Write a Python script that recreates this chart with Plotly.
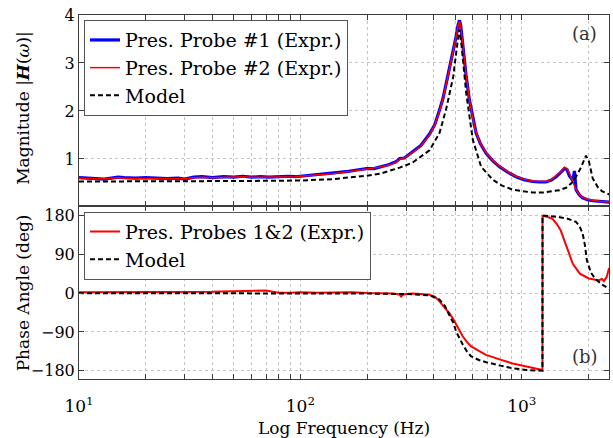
import plotly.graph_objects as go

# ---------------- data ----------------
f_exp = [10, 11, 12, 13, 14, 15, 16, 18, 20, 22, 25, 28, 30, 33, 36, 40, 45, 50, 55, 60,
         66, 72, 80, 88, 95, 100, 110, 120, 130, 140, 150, 165, 180, 199, 215, 228, 250,
         270, 281, 295, 320, 350, 383, 405, 425, 440, 456, 470, 490, 505, 515, 523, 530,
         541, 560, 580, 600, 622, 650, 690, 740, 793, 860, 942, 1020, 1120, 1200, 1288,
         1360, 1429, 1500, 1557, 1600, 1640, 1700, 1730, 1758, 1820, 1884, 1980, 2090,
         2250, 2400, 2480]
mag_probe1 = [0.61, 0.60, 0.59, 0.58, 0.60, 0.62, 0.61, 0.60, 0.61, 0.60, 0.59, 0.60, 0.58,
              0.62, 0.63, 0.61, 0.63, 0.62, 0.64, 0.62, 0.63, 0.62, 0.63, 0.64, 0.63, 0.64,
              0.66, 0.67, 0.68, 0.70, 0.72, 0.74, 0.77, 0.80, 0.80, 0.83, 0.88, 0.94, 1.01,
              1.02, 1.14, 1.28, 1.52, 1.72, 2.02, 2.25, 2.58, 2.85, 3.26, 3.55, 3.78, 3.89,
              3.78, 3.35, 2.75, 2.23, 1.85, 1.54, 1.32, 1.12, 0.96, 0.84, 0.73, 0.63, 0.57,
              0.53, 0.52, 0.52, 0.56, 0.63, 0.72, 0.80, 0.78, 0.65, 0.55, 0.75, 0.36, 0.25,
              0.19, 0.15, 0.13, 0.12, 0.10, 0.10]
mag_probe2 = [0.60, 0.59, 0.59, 0.59, 0.60, 0.61, 0.60, 0.60, 0.60, 0.60, 0.60, 0.60, 0.59,
              0.61, 0.62, 0.61, 0.62, 0.62, 0.63, 0.62, 0.62, 0.62, 0.63, 0.63, 0.63, 0.64,
              0.65, 0.66, 0.68, 0.69, 0.71, 0.73, 0.76, 0.79, 0.81, 0.83, 0.87, 0.93, 0.99,
              1.02, 1.13, 1.27, 1.50, 1.71, 2.00, 2.24, 2.56, 2.84, 3.24, 3.54, 3.76, 3.87,
              3.76, 3.35, 2.76, 2.24, 1.86, 1.55, 1.33, 1.13, 0.97, 0.85, 0.74, 0.64, 0.58,
              0.54, 0.53, 0.53, 0.57, 0.65, 0.74, 0.83, 0.80, 0.71, 0.52, 0.44, 0.36, 0.26,
              0.20, 0.16, 0.14, 0.12, 0.11, 0.10]

f_model = [10, 20, 50, 100, 140, 199, 228, 281, 320, 383, 425, 456, 490, 510, 522, 535, 561,
           601, 655, 739, 810, 910, 1000, 1120, 1250, 1377, 1480, 1585, 1680, 1758, 1850,
           1950, 2010, 2090, 2200, 2300, 2400, 2480]
mag_model = [0.53, 0.53, 0.54, 0.55, 0.58, 0.65, 0.69, 0.82, 0.92, 1.18, 1.54, 2.05, 2.71,
             3.35, 3.70, 3.35, 2.37, 1.40, 0.84, 0.57, 0.45, 0.36, 0.33, 0.30, 0.30, 0.32,
             0.35, 0.40, 0.50, 0.63, 0.82, 1.07, 0.95, 0.60, 0.42, 0.33, 0.29, 0.26]

f_phase = [10, 15, 20, 30, 40, 44, 50, 60, 70, 74, 80, 90, 100, 120, 140, 154, 170, 200, 228,
           260, 280, 285, 292, 320, 350, 383, 405, 425, 450, 470, 490, 506, 525, 541, 565,
           589, 640, 690, 800, 910, 1050, 1215, 1240, 1241, 1300, 1377, 1440, 1500, 1560,
           1614, 1700, 1830, 2010, 2150, 2240, 2300, 2350, 2420, 2480]
phase_exp = [2, 2, 2, 2, 3, 4, 5, 6, 6, 4, 1, 1, 2, 1, 2, 3, 2, 0, 0,
             -1, -3, -8, -3, -1, -2, -4, -8, -19, -35, -46, -60, -73, -88, -100, -113,
             -123, -134, -143, -154, -163, -170, -176, -178, 179, 177, 172, 160, 145, 122,
             99, 68, 45, 34, 31, 30, 33, 28, 38, 58]

f_phase_model = [10, 50, 100, 200, 300, 383, 425, 450, 470, 490, 506, 525, 541, 565, 589, 640,
                 690, 800, 910, 1050, 1240, 1241, 1400, 1480, 1600, 1700, 1758, 1820, 1884,
                 1930, 1968, 2050, 2140, 2300, 2480]
phase_model = [0, 0, 0, -1, -2, -5, -15, -30, -50, -68, -90, -108, -119, -135, -146, -155,
               -160, -168, -174, -178, -180, 180, 178, 176, 173, 168, 165, 156, 138,
               110, 76, 48, 34, 20, 10]

x_tickvals = [10, 20, 30, 40, 50, 60, 70, 80, 90, 100, 200, 300, 400, 500, 600, 700, 800,
              900, 1000, 2000]
x_ticktext = ["10<sup>1</sup>", "", "", "", "", "", "", "", "",
              "10<sup>2</sup>", "", "", "", "", "", "", "", "",
              "10<sup>3</sup>", ""]
mag_ticks = [1, 2, 3, 4]
phase_ticks = [-180, -90, 0, 90, 180]

# ---------------- figure ----------------
FONT = "DejaVu Serif"
AX = "#3c3c3c"
GRID = "#c4c4c4"

fig = go.Figure()

fig.add_trace(go.Scatter(x=f_exp, y=mag_probe1, mode="lines", name="Pres. Probe #1 (Expr.)",
                         line=dict(color="#0000ff", width=3.2), xaxis="x2", yaxis="y2",
                         legend="legend", legendgroup="a1"))
fig.add_trace(go.Scatter(x=f_exp, y=mag_probe2, mode="lines", name="Pres. Probe #2 (Expr.)",
                         line=dict(color="#ff0000", width=1.5), xaxis="x2", yaxis="y2",
                         legend="legend", legendgroup="a2"))
fig.add_trace(go.Scatter(x=f_model, y=mag_model, mode="lines", name="Model",
                         line=dict(color="#000000", width=2, dash="5px,3px"),
                         xaxis="x2", yaxis="y2", legend="legend", legendgroup="a3"))

fig.add_trace(go.Scatter(x=f_phase, y=phase_exp, mode="lines", name="Pres. Probes 1&2 (Expr.)",
                         line=dict(color="#ff0000", width=2), xaxis="x", yaxis="y",
                         legend="legend2", legendgroup="b1"))
fig.add_trace(go.Scatter(x=f_phase_model, y=phase_model, mode="lines", name="Model",
                         line=dict(color="#000000", width=2, dash="5px,3px"),
                         xaxis="x", yaxis="y", legend="legend2", legendgroup="b2"))

common_x = dict(type="log", range=[1, 3.394], tickvals=x_tickvals, ticktext=x_ticktext,
                ticks="inside", ticklen=5, tickcolor=AX, showline=True, linecolor=AX,
                linewidth=1, mirror="ticks", showgrid=True, gridcolor=GRID, griddash="dot",
                gridwidth=1, zeroline=False)

fig.update_layout(
    width=613, height=438,
    margin=dict(l=79, r=4, t=15, b=59),
    paper_bgcolor="white", plot_bgcolor="white",
    font=dict(family=FONT, size=16, color="black"),
    showlegend=True,
    xaxis=dict(**common_x, anchor="y", domain=[0, 1],
               tickfont=dict(family=FONT, size=17), ticklabelstandoff=12),
    xaxis2=dict(**common_x, anchor="y2", domain=[0, 1], matches="x", showticklabels=False),
    yaxis=dict(domain=[0, 0.4766], range=[-199, 203], tickvals=phase_ticks,
               ticks="inside", ticklen=5, tickcolor=AX, showline=True, linecolor=AX,
               linewidth=1, mirror="ticks", showgrid=True, gridcolor=GRID, griddash="dot",
               zeroline=False, tickfont=dict(family=FONT, size=16)),
    yaxis2=dict(domain=[0.4766, 1], range=[0.03, 4], tickvals=mag_ticks,
                ticks="inside", ticklen=5, tickcolor=AX, showline=True, linecolor=AX,
                linewidth=1, mirror="ticks", showgrid=True, gridcolor=GRID, griddash="dot",
                zeroline=False, tickfont=dict(family=FONT, size=16)),
    legend=dict(x=0.0094, y=0.986, xanchor="left", yanchor="top", bgcolor="white",
                bordercolor="#555555", borderwidth=1, font=dict(family=FONT, size=19),
                tracegroupgap=0, traceorder="grouped"),
    legend2=dict(x=0.0094, y=0.4596, xanchor="left", yanchor="top", bgcolor="white",
                 bordercolor="#555555", borderwidth=1, font=dict(family=FONT, size=19),
                 tracegroupgap=0, traceorder="grouped"),
    annotations=[
        dict(text="(a)", xref="paper", yref="paper", x=0.954, y=0.9505, xanchor="center",
             yanchor="middle", showarrow=False, font=dict(family=FONT, size=18, color="#333")),
        dict(text="(b)", xref="paper", yref="paper", x=0.954, y=0.061, xanchor="center",
             yanchor="middle", showarrow=False, font=dict(family=FONT, size=18, color="#333")),
        dict(text="Magnitude |<b><i>H</i></b>(<i>ω</i>)|", xref="paper", yref="paper",
             x=-0.1057, y=0.745, xanchor="center", yanchor="middle", textangle=-90,
             showarrow=False, font=dict(family=FONT, size=17)),
        dict(text="Phase Angle (deg)", xref="paper", yref="paper",
             x=-0.1057, y=0.238, xanchor="center", yanchor="middle", textangle=-90,
             showarrow=False, font=dict(family=FONT, size=17)),
        dict(text="Log Frequency (Hz)", xref="paper", yref="paper",
             x=0.5, y=-0.1346, xanchor="center", yanchor="middle",
             showarrow=False, font=dict(family=FONT, size=17)),
    ],
)

fig.write_html("out.html", config={"displayModeBar": False},
               post_script="document.body.style.margin='0';")
